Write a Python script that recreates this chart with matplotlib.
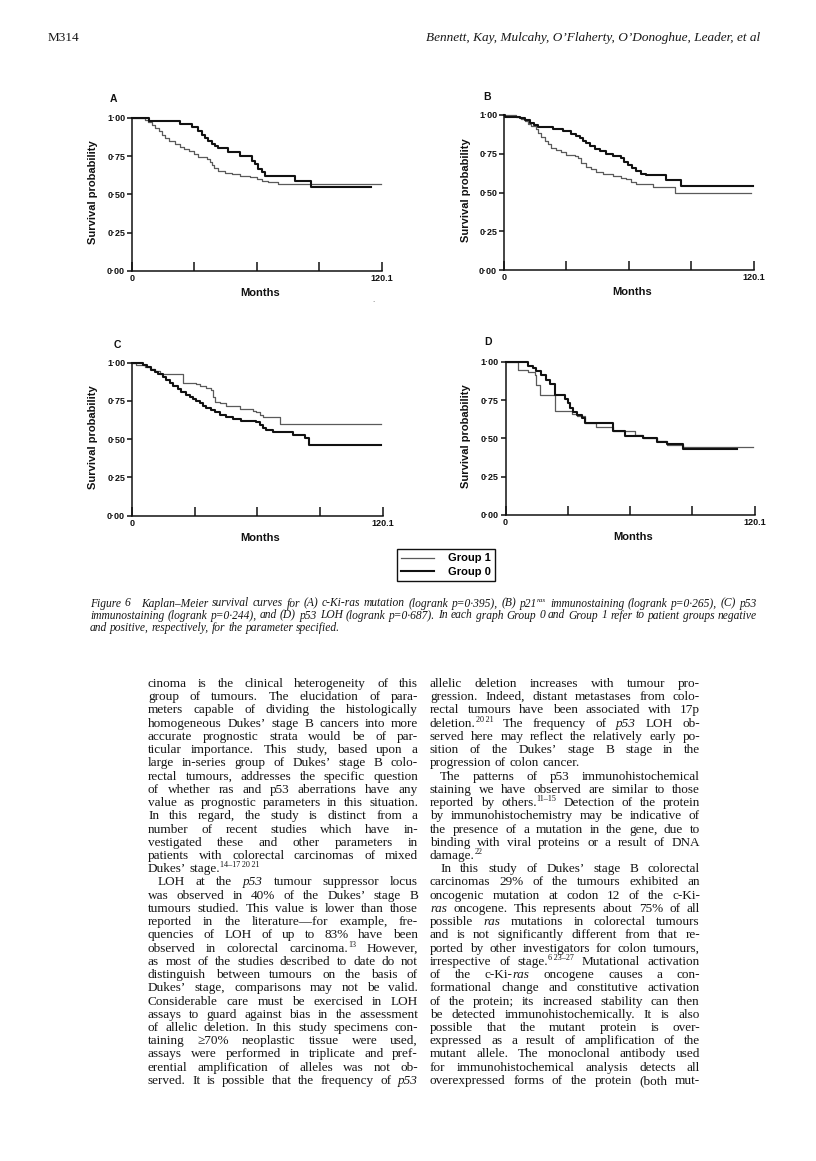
import matplotlib
matplotlib.use("Agg")
import matplotlib.pyplot as plt
from matplotlib.lines import Line2D

# ---------------- data (months, survival probability) ----------------
A_g0_t = [0, 8.0, 23.2, 28.8, 31.9, 33.5, 35.1, 36.7, 38.3, 39.9, 41.5, 46.3, 51.9, 57.5, 59.1, 60.7, 62.3, 63.9, 78.3, 85.8]
A_g0_s = [1.0, 0.976, 0.961, 0.941, 0.915, 0.89, 0.87, 0.85, 0.83, 0.815, 0.80, 0.775, 0.75, 0.72, 0.695, 0.665, 0.645, 0.62, 0.59, 0.545]
A_g0_end = 115.0
A_g1_t = [0, 6.4, 7.5, 9.6, 11.2, 12.8, 14.4, 16.0, 17.6, 20.8, 23.2, 24.8, 27.2, 29.6, 31.9, 35.9, 37.5, 38.3, 39.5, 41.5, 44.7, 47.9, 51.9, 56.7, 59.9, 62.3, 65.5, 70.3]
A_g1_s = [1.0, 0.985, 0.97, 0.95, 0.93, 0.91, 0.885, 0.865, 0.845, 0.83, 0.81, 0.795, 0.78, 0.765, 0.745, 0.73, 0.71, 0.69, 0.67, 0.655, 0.64, 0.63, 0.62, 0.61, 0.60, 0.59, 0.58, 0.57]
A_g1_end = 119.8

B_g0_t = [0, 0.5, 7.5, 9.9, 12.3, 14.4, 16.3, 23.5, 28.3, 32.3, 34.7, 36.3, 37.9, 39.6, 41.2, 43.6, 46.0, 49.2, 52.4, 56.4, 57.5, 59.6, 61.6, 63.6, 66.0, 68.4, 78.0, 85.2]
B_g0_s = [1.0, 0.99, 0.98, 0.97, 0.95, 0.935, 0.92, 0.91, 0.90, 0.88, 0.865, 0.85, 0.835, 0.82, 0.80, 0.78, 0.765, 0.75, 0.735, 0.72, 0.70, 0.68, 0.66, 0.64, 0.62, 0.61, 0.58, 0.545]
B_g0_end = 119.6
B_g1_t = [0, 5.9, 8.3, 9.9, 11.5, 13.1, 15.2, 16.3, 17.9, 19.5, 21.1, 22.7, 25.1, 27.5, 29.9, 33.9, 35.5, 37.1, 39.6, 41.9, 44.4, 47.6, 52.4, 56.4, 58.8, 61.2, 63.6, 71.6, 82.0]
B_g1_s = [1.0, 0.99, 0.975, 0.96, 0.945, 0.93, 0.91, 0.885, 0.86, 0.835, 0.81, 0.79, 0.775, 0.76, 0.745, 0.735, 0.72, 0.69, 0.665, 0.65, 0.635, 0.62, 0.605, 0.595, 0.585, 0.57, 0.555, 0.535, 0.50]
B_g1_end = 118.8

C_g0_t = [0, 5.3, 7.2, 9.3, 10.8, 12.4, 14.8, 16.4, 18.0, 19.6, 22.0, 23.6, 26.0, 27.6, 29.2, 30.8, 32.4, 34.0, 35.6, 38.0, 39.6, 41.9, 45.1, 48.3, 52.3, 59.5, 61.1, 62.7, 64.3, 67.5, 77.0, 82.6, 84.7]
C_g0_s = [1.0, 0.985, 0.97, 0.955, 0.94, 0.925, 0.905, 0.885, 0.865, 0.845, 0.825, 0.81, 0.79, 0.775, 0.765, 0.75, 0.735, 0.72, 0.705, 0.69, 0.675, 0.66, 0.645, 0.63, 0.62, 0.61, 0.59, 0.575, 0.56, 0.55, 0.525, 0.505, 0.46]
C_g0_end = 119.3
C_g1_t = [0, 2.1, 6.1, 8.5, 10.8, 13.2, 24.4, 30.8, 32.4, 35.6, 38.0, 38.8, 39.6, 41.9, 45.1, 51.5, 57.9, 59.5, 61.1, 62.7, 70.7]
C_g1_s = [1.0, 0.985, 0.975, 0.96, 0.945, 0.925, 0.87, 0.86, 0.845, 0.835, 0.82, 0.775, 0.745, 0.735, 0.72, 0.70, 0.685, 0.675, 0.66, 0.645, 0.60]
C_g1_end = 119.3

D_g0_t = [0, 10.9, 13.0, 14.9, 17.3, 19.7, 21.3, 23.8, 28.6, 30.2, 31.0, 32.6, 34.2, 36.6, 38.2, 51.8, 57.5, 66.3, 72.7, 77.5, 85.6]
D_g0_s = [1.0, 0.975, 0.96, 0.94, 0.91, 0.88, 0.855, 0.78, 0.755, 0.73, 0.70, 0.67, 0.65, 0.635, 0.60, 0.55, 0.515, 0.50, 0.475, 0.465, 0.43]
D_g0_end = 111.2
D_g1_t = [0, 6.1, 10.9, 14.1, 14.9, 16.5, 23.8, 31.8, 34.2, 38.2, 43.8, 51.8, 62.3, 66.3, 72.7, 77.5, 85.6]
D_g1_s = [1.0, 0.945, 0.93, 0.91, 0.85, 0.78, 0.68, 0.66, 0.645, 0.60, 0.575, 0.55, 0.525, 0.50, 0.48, 0.455, 0.445]
D_g1_end = 119.3

panel_letters = ["A", "B", "C", "D"]
y_ticks = [0, 0.25, 0.5, 0.75, 1.0]
y_tick_labels = ["0·00", "0·25", "0·50", "0·75", "1·00"]
x_ticks = [0, 30, 60, 90, 120.1]
x_tick_labels = ["0", "", "", "", "120.1"]
legend_labels = ["Group 1", "Group 0"]

header_left = "M314"
header_right = "Bennett, Kay, Mulcahy, O’Flaherty, O’Donoghue, Leader, et al"

caption_lines = [
    "Figure 6   Kaplan–Meier survival curves for (A) c-Ki-ras mutation (logrank p=0·395), (B) p21^ras^ immunostaining (logrank p=0·265), (C) p53",
    "immunostaining (logrank p=0·244), and (D) p53 LOH (logrank p=0·687). In each graph Group 0 and Group 1 refer to patient groups negative",
    "and positive, respectively, for the parameter specified.",
]

left_col = [
    "cinoma is the clinical heterogeneity of this",
    "group of tumours. The elucidation of para-",
    "meters capable of dividing the histologically",
    "homogeneous Dukes’ stage B cancers into more",
    "accurate prognostic strata would be of par-",
    "ticular importance. This study, based upon a",
    "large in-series group of Dukes’ stage B colo-",
    "rectal tumours, addresses the specific question",
    "of whether ras and p53 aberrations have any",
    "value as prognostic parameters in this situation.",
    "In this regard, the study is distinct from a",
    "number of recent studies which have in-",
    "vestigated these and other parameters in",
    "patients with colorectal carcinomas of mixed",
    "Dukes’ stage.^14–17~20~21^",
    "LOH at the _p53_ tumour suppressor locus",
    "was observed in 40% of the Dukes’ stage B",
    "tumours studied. This value is lower than those",
    "reported in the literature—for example, fre-",
    "quencies of LOH of up to 83% have been",
    "observed in colorectal carcinoma.^13^ However,",
    "as most of the studies described to date do not",
    "distinguish between tumours on the basis of",
    "Dukes’ stage, comparisons may not be valid.",
    "Considerable care must be exercised in LOH",
    "assays to guard against bias in the assessment",
    "of allelic deletion. In this study specimens con-",
    "taining ≥70% neoplastic tissue were used,",
    "assays were performed in triplicate and pref-",
    "erential amplification of alleles was not ob-",
    "served. It is possible that the frequency of _p53_",
]
left_par_end = [14]

right_col = [
    "allelic deletion increases with tumour pro-",
    "gression. Indeed, distant metastases from colo-",
    "rectal tumours have been associated with 17p",
    "deletion.^20~21^ The frequency of _p53_ LOH ob-",
    "served here may reflect the relatively early po-",
    "sition of the Dukes’ stage B stage in the",
    "progression of colon cancer.",
    "The patterns of p53 immunohistochemical",
    "staining we have observed are similar to those",
    "reported by others.^11–15^ Detection of the protein",
    "by immunohistochemistry may be indicative of",
    "the presence of a mutation in the gene, due to",
    "binding with viral proteins or a result of DNA",
    "damage.^22^",
    "In this study of Dukes’ stage B colorectal",
    "carcinomas 29% of the tumours exhibited an",
    "oncogenic mutation at codon 12 of the c-Ki-",
    "_ras_ oncogene. This represents about 75% of all",
    "possible _ras_ mutations in colorectal tumours",
    "and is not significantly different from that re-",
    "ported by other investigators for colon tumours,",
    "irrespective of stage.^6~23–27^ Mutational activation",
    "of the c-Ki-_ras_ oncogene causes a con-",
    "formational change and constitutive activation",
    "of the protein; its increased stability can then",
    "be detected immunohistochemically. It is also",
    "possible that the mutant protein is over-",
    "expressed as a result of amplification of the",
    "mutant allele. The monoclonal antibody used",
    "for immunohistochemical analysis detects all",
    "overexpressed forms of the protein (both mut-",
]
right_par_end = [6, 13]

# ---------------- figure ----------------
W, H = 816, 1161
fig = plt.figure(figsize=(W / 100, H / 100), dpi=100)
fig.patch.set_facecolor("white")
SANS = ["Liberation Sans", "DejaVu Sans"]
SERIF = ["Liberation Serif", "DejaVu Serif"]
INK = "#161616"


def fx(x):
    return x / W


def fy(y):
    return 1 - y / H


# axes boxes in pixels: left(0), right(120.1), top(1.0), bottom(0)
boxes = {
    "A": (132, 382, 117.7, 271),
    "B": (504, 754, 115, 270),
    "C": (132, 383, 362.7, 515.7),
    "D": (505.5, 755, 361.7, 515),
}
letter_pos = {"A": (113, 99), "B": (487, 97), "C": (117, 345), "D": (488, 342)}
ylabel_x = {"A": 93, "B": 466, "C": 93, "D": 466}

series = {
    "A": ((A_g0_t, A_g0_s, A_g0_end), (A_g1_t, A_g1_s, A_g1_end)),
    "B": ((B_g0_t, B_g0_s, B_g0_end), (B_g1_t, B_g1_s, B_g1_end)),
    "C": ((C_g0_t, C_g0_s, C_g0_end), (C_g1_t, C_g1_s, C_g1_end)),
    "D": ((D_g0_t, D_g0_s, D_g0_end), (D_g1_t, D_g1_s, D_g1_end)),
}

G0_STYLE = dict(color="#111111", lw=1.5)
G1_STYLE = dict(color="#5a5a5a", lw=0.9)

for key in panel_letters:
    l, r, t, b = boxes[key]
    ax = fig.add_axes([fx(l), fy(b), (r - l) / W, (b - t) / H])
    (t0, s0, e0), (t1, s1, e1) = series[key]
    ax.step(list(t1) + [e1], list(s1) + [s1[-1]], where="post", clip_on=False, **G1_STYLE)
    ax.step(list(t0) + [e0], list(s0) + [s0[-1]], where="post", clip_on=False, **G0_STYLE)
    ax.set_xlim(0, 120.1)
    ax.set_ylim(0, 1.0)
    ax.patch.set_alpha(0)
    for sp in ["top", "right"]:
        ax.spines[sp].set_visible(False)
    for sp in ["left", "bottom"]:
        ax.spines[sp].set_linewidth(1.1)
        ax.spines[sp].set_color("#111111")
    ax.set_yticks(y_ticks)
    ax.set_yticklabels(y_tick_labels, fontfamily=SANS, fontweight="bold", fontsize=6.5)
    ax.set_xticks(x_ticks)
    ax.set_xticklabels(x_tick_labels, fontfamily=SANS, fontweight="bold", fontsize=6.5)
    ax.tick_params(axis="y", direction="out", length=3.5, width=1.1, pad=1.5, colors="#111111")
    ax.tick_params(axis="x", direction="in", length=6.5, width=1.1, pad=2.5, colors="#111111")
    fig.text(fx(letter_pos[key][0]), fy(letter_pos[key][1]), key, ha="center", va="center",
             fontsize=7.5, fontweight="bold", family=SANS, color="#111111")
    fig.text(fx(ylabel_x[key]), fy((t + b) / 2 - 2), "Survival probability", rotation=90,
             ha="center", va="center", fontsize=8, fontweight="bold", family=SANS, color="#111111")
    fig.text(fx((l + r) / 2 + 3), fy(b + 22), "Months", ha="center", va="center",
             fontsize=8, fontweight="bold", family=SANS, color="#111111")

# legend
handles = [Line2D([], [], **G1_STYLE), Line2D([], [], **G0_STYLE)]
leg = fig.legend(handles, legend_labels, loc="upper left", bbox_to_anchor=(fx(397), fy(549)),
                 frameon=True, fancybox=False, edgecolor="#111111", framealpha=1,
                 prop=dict(family=SANS, weight="bold", size=8), handlelength=2.9,
                 handletextpad=1.3, labelspacing=0.3, borderpad=0.4, borderaxespad=0)
leg.get_frame().set_linewidth(1.0)

# small scan dot
fig.text(fx(373), fy(300), ".", fontsize=5, color="#555555", ha="center", va="center")

# ---------------- text helpers ----------------
renderer = fig.canvas.get_renderer()


def parse_word(w):
    segs, cur, it, sup = [], "", False, False
    for ch in w:
        if ch in "_^":
            if cur:
                segs.append((cur, it, sup))
                cur = ""
            if ch == "_":
                it = not it
            else:
                sup = not sup
        else:
            cur += "\u2009" if ch == "~" else ch
    if cur:
        segs.append((cur, it, sup))
    return segs


def make_word(word, size, base_italic):
    items = []
    total = 0.0
    for txt, it, sup in parse_word(word):
        italic = it != base_italic
        fs = size * 0.62 if sup else size
        tobj = fig.text(0, 0, txt, fontsize=fs, family=SERIF,
                        style="italic" if italic else "normal", color=INK, va="baseline")
        wdt = tobj.get_window_extent(renderer).width
        items.append((tobj, total, sup, size))
        total += wdt
    return items, total


def space_width(size, italic):
    st = "italic" if italic else "normal"
    a = fig.text(0, 0, "a a", fontsize=size, family=SERIF, style=st)
    b = fig.text(0, 0, "aa", fontsize=size, family=SERIF, style=st)
    wd = a.get_window_extent(renderer).width - b.get_window_extent(renderer).width
    a.remove()
    b.remove()
    return wd


def draw_line(text, x0, x1, ybase, size, base_italic=False, justify=True, indent=0.0):
    words = text.split(" ")
    start = x0 + indent
    sz = size
    while True:
        built = [make_word(w, sz, base_italic) for w in words]
        widths = [b[1] for b in built]
        space = space_width(sz, base_italic)
        if justify and len(words) > 1:
            gap = (x1 - start - sum(widths)) / (len(words) - 1)
        else:
            gap = space
        if gap >= 0.45 * space or sz < size * 0.85:
            break
        for items, _ in built:
            for tobj, *_r in items:
                tobj.remove()
        sz *= 0.98
    x = start
    for items, wdt in built:
        for tobj, off, sup, s in items:
            yb = ybase - (s * 100 / 72 * 0.38 if sup else 0)
            tobj.set_position((fx(x + off), fy(yb)))
        x += wdt + gap


# header
fig.text(fx(48), fy(41), header_left, fontsize=9.5, family=SERIF, color=INK, va="baseline")
fig.text(fx(760), fy(41), header_right, fontsize=9.5, family=SERIF, style="italic",
         color=INK, va="baseline", ha="right")

# caption
cap_x0, cap_x1 = 90, 757
for i, line in enumerate(caption_lines):
    draw_line(line, cap_x0, cap_x1, 606.5 + 12 * i, 8.3, base_italic=True,
              justify=(i < len(caption_lines) - 1))

# body columns
LS = 13.23
Y0 = 687
BODY = 9.5
for col, ends, (cx0, cx1) in ((left_col, left_par_end, (148, 418)),
                              (right_col, right_par_end, (430, 700))):
    for i, line in enumerate(col):
        indent = 10 if (i - 1) in ends else 0
        draw_line(line, cx0, cx1, Y0 + LS * i, BODY, justify=(i not in ends), indent=indent)

fig.savefig("out.png", dpi=100, facecolor="white")
